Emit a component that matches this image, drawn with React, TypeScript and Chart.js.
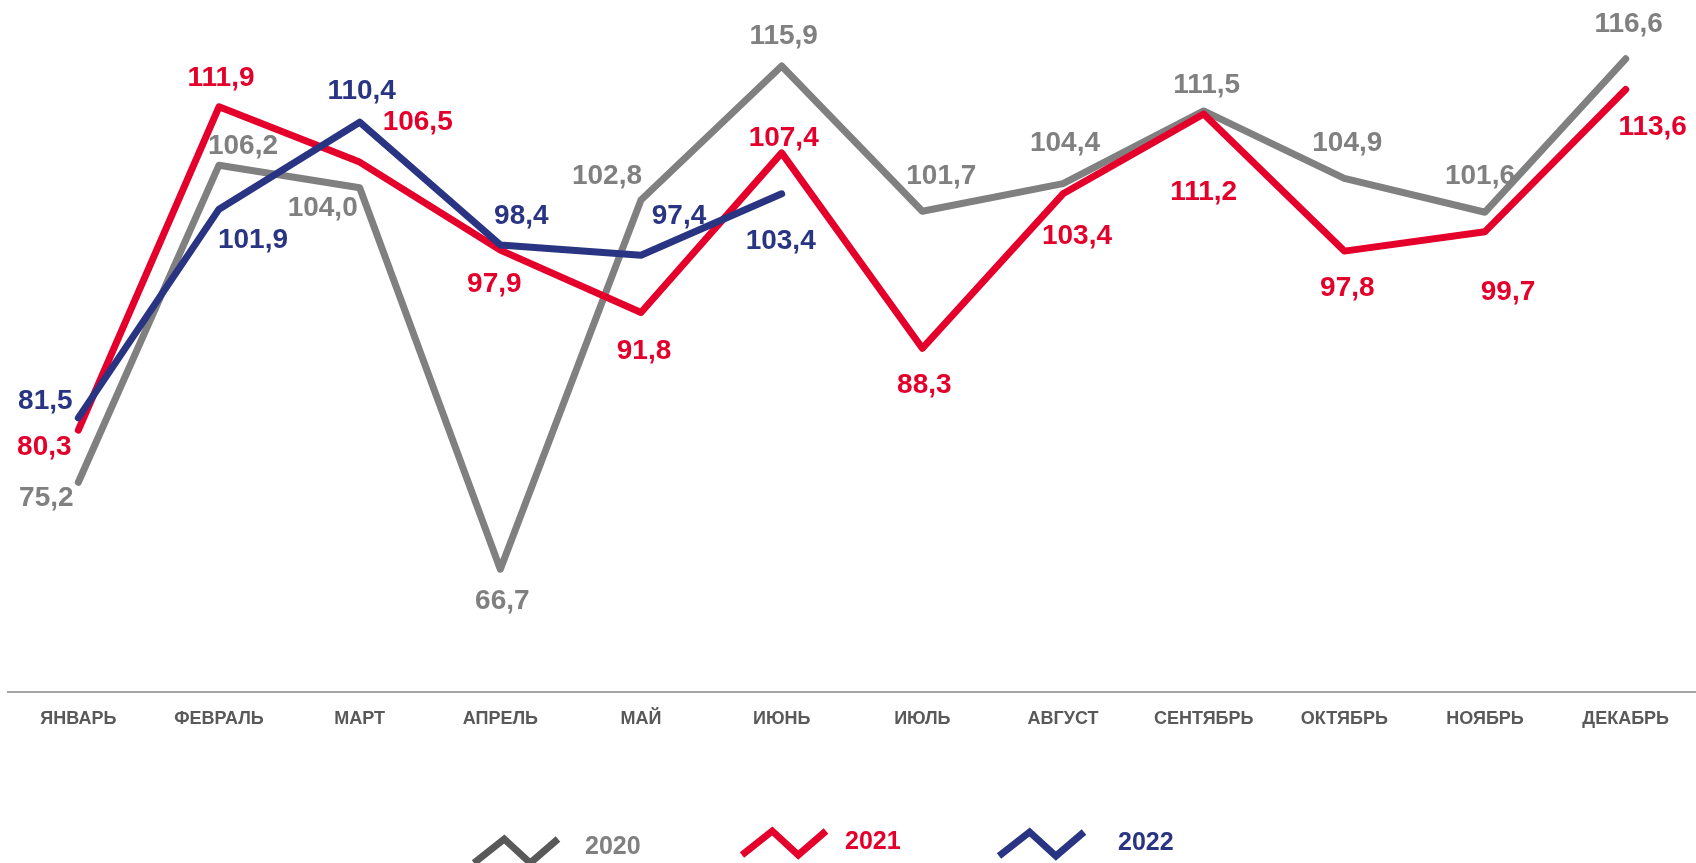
import React, { useEffect, useRef } from "react";
import { Chart, registerables } from "chart.js";

Chart.register(...registerables);

// ---- data ----
const months = [
  "ЯНВАРЬ", "ФЕВРАЛЬ", "МАРТ", "АПРЕЛЬ", "МАЙ", "ИЮНЬ",
  "ИЮЛЬ", "АВГУСТ", "СЕНТЯБРЬ", "ОКТЯБРЬ", "НОЯБРЬ", "ДЕКАБРЬ",
];
const seriesNames = ["2020", "2021", "2022"];
const values2020 = [75.2, 106.2, 104.0, 66.7, 102.8, 115.9, 101.7, 104.4, 111.5, 104.9, 101.6, 116.6];
const values2021 = [80.3, 111.9, 106.5, 97.9, 91.8, 107.4, 88.3, 103.4, 111.2, 97.8, 99.7, 113.6];
const values2022 = [81.5, 101.9, 110.4, 98.4, 97.4, 103.4];

// ---- styles ----
const lineColors = ["#808080", "#E4002B", "#293583"];
const legendMarkerColors = ["#595959", "#E4002B", "#293583"];
const labelOffsets2020 = [[-32, 16], [24, -19], [-37, 21], [2, 32], [-34, -24], [2, -30], [19, -35], [2, -40], [3, -26], [3, -35], [-5, -36], [3, -34]];
const labelOffsets2021 = [[-34, 17], [2, -29], [58, -40], [-6, 34], [3, 39], [2, -15], [2, 37], [14, 42], [0, 78], [3, 37], [23, 61], [27, 38]];
const labelOffsets2022 = [[-33, -17], [34, 31], [2, -31], [21, -29], [38, -39], [-1, 47]];
const legendLayout = [
  { mx: 474, my: 839, mw: 84, mh: 24, tx: 585, ty: 847 },
  { mx: 742, my: 831, mw: 84, mh: 24, tx: 845, ty: 842 },
  { mx: 999, my: 832, mw: 85, mh: 24, tx: 1118, ty: 843 },
];

const fmt = (v: number) => v.toFixed(1).replace(".", ",");

const labelsPlugin = {
  id: "valueLabels",
  afterDatasetsDraw(chart: any) {
    const ctx = chart.ctx;
    const offs = [labelOffsets2020, labelOffsets2021, labelOffsets2022];
    ctx.save();
    ctx.font = "bold 28px 'Liberation Sans', Arial, sans-serif";
    ctx.textAlign = "center";
    ctx.textBaseline = "middle";
    chart.data.datasets.forEach((ds: any, di: number) => {
      const meta = chart.getDatasetMeta(di);
      ctx.fillStyle = lineColors[di];
      meta.data.forEach((pt: any, i: number) => {
        const v = ds.data[i];
        if (v == null) return;
        const o = offs[di][i] || [0, -30];
        ctx.fillText(fmt(v), pt.x + o[0], pt.y + o[1]);
      });
    });
    ctx.restore();
  },
};

const legendPlugin = {
  id: "zigLegend",
  afterDraw(chart: any) {
    const ctx = chart.ctx;
    ctx.save();
    seriesNames.forEach((name, i) => {
      const L = legendLayout[i];
      ctx.strokeStyle = legendMarkerColors[i];
      ctx.lineWidth = 7;
      ctx.lineCap = "butt";
      ctx.lineJoin = "miter";
      ctx.beginPath();
      ctx.moveTo(L.mx, L.my + L.mh);
      ctx.lineTo(L.mx + L.mw * 0.36, L.my);
      ctx.lineTo(L.mx + L.mw * 0.67, L.my + L.mh);
      ctx.lineTo(L.mx + L.mw, L.my);
      ctx.stroke();
      ctx.fillStyle = lineColors[i];
      ctx.font = "bold 25px 'Liberation Sans', Arial, sans-serif";
      ctx.textAlign = "left";
      ctx.textBaseline = "middle";
      ctx.fillText(name, L.tx, L.ty);
    });
    ctx.restore();
  },
};

export default function App() {
  const ref = useRef<HTMLCanvasElement | null>(null);

  useEffect(() => {
    if (!ref.current) return;
    const series = [values2020, values2021, values2022];
    const chart = new Chart(ref.current, {
      type: "line",
      data: {
        labels: months,
        datasets: series.map((vals, i) => ({
          label: seriesNames[i],
          data: vals,
          borderColor: lineColors[i],
          backgroundColor: lineColors[i],
          borderWidth: 7,
          borderCapStyle: "round",
          borderJoinStyle: "round",
          pointRadius: 0,
          tension: 0,
          fill: false,
          order: 3 - i,
        })),
      },
      options: {
        responsive: false,
        animation: false,
        layout: { padding: { top: 24, left: 8, right: 0, bottom: 0 } },
        plugins: { legend: { display: false }, tooltip: { enabled: false } },
        scales: {
          x: {
            offset: true,
            grid: { display: false, drawTicks: false },
            border: { display: true, color: "#a6a6a6", width: 2 },
            ticks: {
              color: "#595959",
              font: { family: "'Liberation Sans', Arial, sans-serif", size: 18, weight: "bold" },
              padding: 16,
              maxRotation: 0,
              autoSkip: false,
            },
            afterFit: (scale: any) => {
              scale.height = 171;
            },
          },
          y: {
            display: false,
            min: 54.7,
            max: 120,
          },
        },
      },
      plugins: [labelsPlugin, legendPlugin],
    } as any);
    return () => chart.destroy();
  }, []);

  return (
    <div style={{ position: "absolute", left: 0, top: 0, width: 1696, height: 863 }}>
      <canvas ref={ref} width={1696} height={863} style={{ width: 1696, height: 863, display: "block" }} />
    </div>
  );
}
